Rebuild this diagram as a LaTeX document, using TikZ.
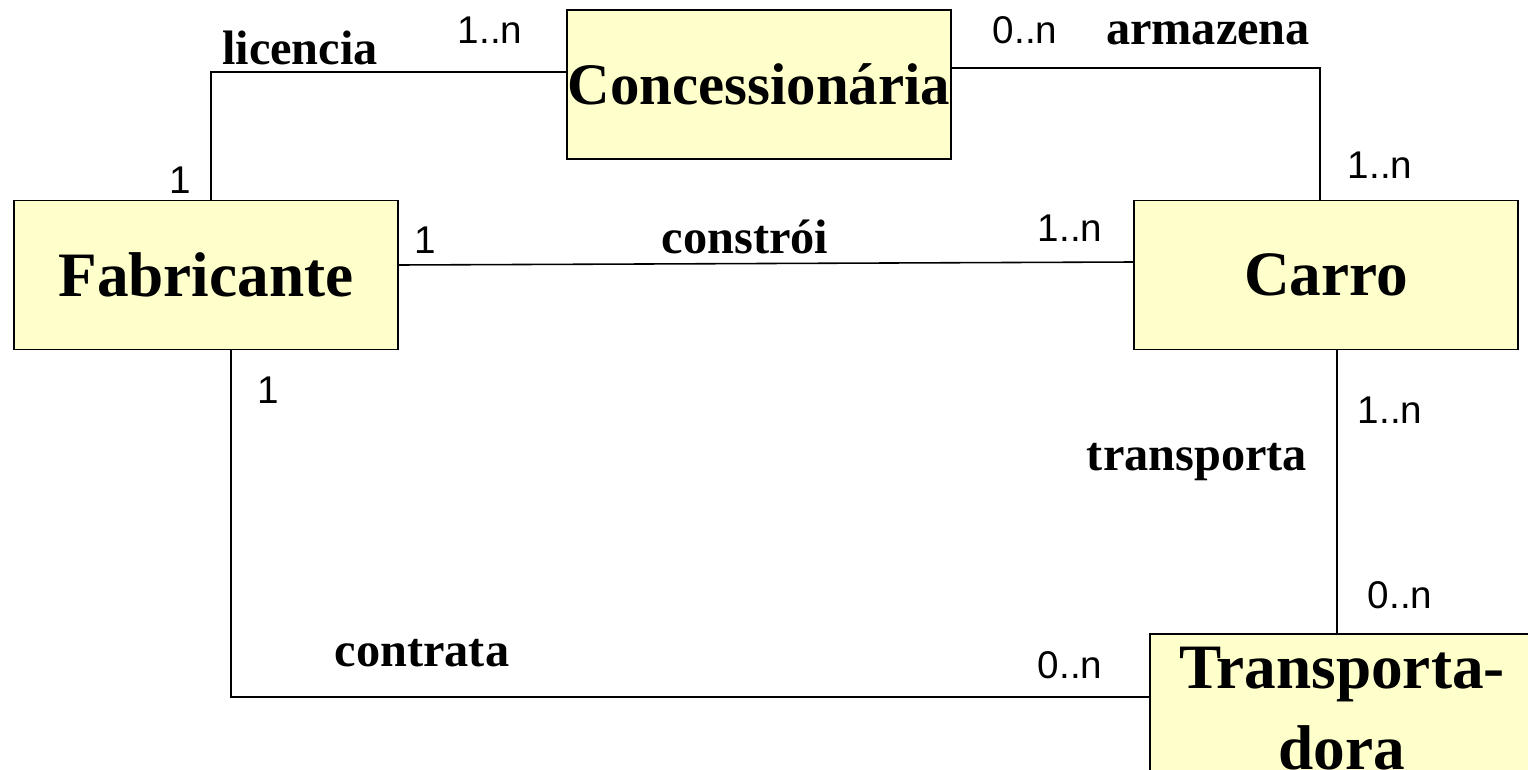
\documentclass[tikz,border=0pt]{standalone}
\usepackage{fontspec}
\setmainfont{Liberation Serif}
\newfontfamily\cardfont{Liberation Sans}
\usetikzlibrary{positioning}
\usetikzlibrary{calc}
\definecolor{entcolor}{RGB}{255, 255, 204}
\tikzstyle{entity} = [
	draw=black,
	line width=1.1pt,
	fill=entcolor,
	minimum width=7.68cm,
	minimum height=2.98cm,
	inner sep=0pt,
	font=\fontsize{36}{46}\selectfont\bfseries
]
\tikzstyle{rel} = [
	inner sep=0pt,
	font=\fontsize{27.5}{30}\selectfont\bfseries
]
\tikzstyle{card} = [
	inner sep=0pt,
	font=\fontsize{22}{26}\selectfont\cardfont
]
\tikzstyle{link} = [
	line width=0.9pt
]
\begin{document}
\begin{tikzpicture}[x=0.02cm, y=-0.02cm]
	\useasboundingbox (0,0) rectangle (1528,770);

	%
	% Entities
	\node[entity, font=\fontsize{33.5}{40}\selectfont\bfseries] at (759,84.5) (Conc) {Concessionária};
	\node[entity] at (206,275) (Fabr) {Fabricante};
	\node[entity] at (1326,275) (Carro) {Carro};
	\node[entity, align=center, minimum height=3cm] at (1342,709) (Transp) {Transporta-\\dora};

	%
	% Relationship names
	\node[rel] at (300,48) (licencia) {licencia};
	\node[rel] at (1208,33) (armazena) {armazena};
	\node[rel] at (745,237) (constroi) {constrói};
	\node[rel] at (1197,462) (transporta) {transporta};
	\node[rel] at (422,653) (contrata) {contrata};

	%
	% Cardinalities
	\node[card] at (490,30) (licN) {1..n};
	\node[card] at (180,180) (lic1) {1};
	\node[card] at (1025,30) (armN0) {0..n};
	\node[card] at (1380,165) (armN1) {1..n};
	\node[card] at (425,240) (con1) {1};
	\node[card] at (1070,228) (conN) {1..n};
	\node[card] at (268,390) (ctr1) {1};
	\node[card] at (1070,665) (ctrN) {0..n};
	\node[card] at (1390,410) (trN1) {1..n};
	\node[card] at (1400,595) (trN0) {0..n};

	%
	% Connectors
	\coordinate (trTop) at ([xshift=0.22cm]Carro.south);
	\draw[link] ([xshift=0.1cm]Fabr.north) |- ([yshift=0.25cm]Conc.west);
	\draw[link] ([yshift=0.33cm]Conc.east) -| ([xshift=-0.12cm]Carro.north);
	\draw[link] ([yshift=0.2cm]Fabr.east) -- ([yshift=0.26cm]Carro.west);
	\draw[link] ([xshift=0.5cm]Fabr.south) |- ([yshift=0.24cm]Transp.west);
	\draw[link] (trTop) -- (trTop |- Transp.north);

\end{tikzpicture}
\end{document}
